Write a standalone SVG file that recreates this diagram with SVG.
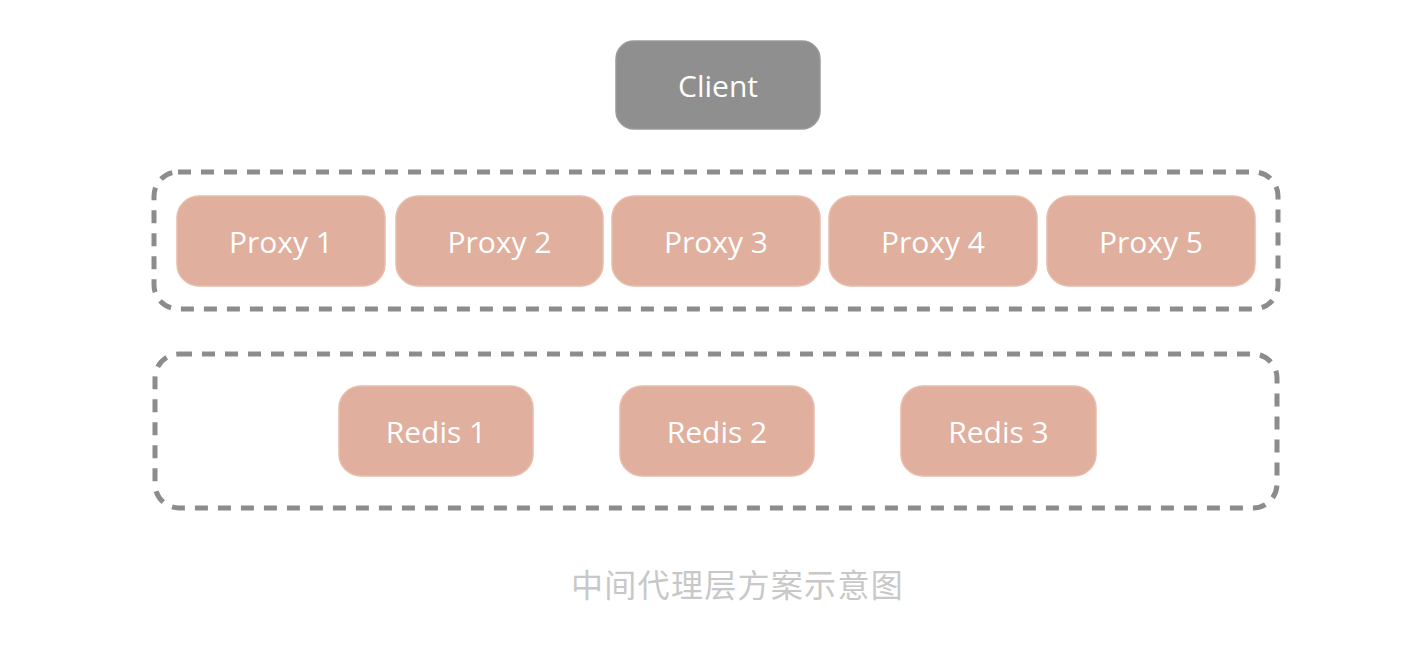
<svg xmlns="http://www.w3.org/2000/svg" width="1410" height="648" viewBox="0 0 1410 648">
<style>
.box{fill:#e0af9e;stroke:#e8bcab;stroke-width:1.5}
.lbl{font-family:"Open Sans","Noto Sans",sans-serif;font-size:30px;fill:#ffffff;text-anchor:middle;dominant-baseline:central}
.grp{fill:none;stroke:#8c8c8c;stroke-width:5;stroke-dasharray:13 10}
.cap{font-family:"Noto Sans CJK SC",sans-serif;font-size:32px;letter-spacing:1.3px;fill:#c8c8c8;text-anchor:middle;dominant-baseline:central}
</style>
<rect width="1410" height="648" fill="#ffffff"/>
<g id="groups">
<rect class="grp" x="154" y="172" width="1124" height="137" rx="24"/>
<rect class="grp" x="155" y="354" width="1122" height="154" rx="24"/>
</g>
<g id="client">
<rect x="616" y="41" width="204" height="88" rx="18" fill="#8f8f8f" stroke="#9a9a9a" stroke-width="1.5"/>
<text class="lbl" x="718" y="85">Client</text>
</g>
<g id="proxy1"><rect class="box" x="177" y="196" width="208" height="90" rx="22"/><text class="lbl" x="281" y="241">Proxy 1</text></g>
<g id="proxy2"><rect class="box" x="396" y="196" width="207" height="90" rx="22"/><text class="lbl" x="499.5" y="241">Proxy 2</text></g>
<g id="proxy3"><rect class="box" x="612" y="196" width="208" height="90" rx="22"/><text class="lbl" x="716" y="241">Proxy 3</text></g>
<g id="proxy4"><rect class="box" x="829" y="196" width="208" height="90" rx="22"/><text class="lbl" x="933" y="241">Proxy 4</text></g>
<g id="proxy5"><rect class="box" x="1047" y="196" width="208" height="90" rx="22"/><text class="lbl" x="1151" y="241">Proxy 5</text></g>
<g id="redis1"><rect class="box" x="339" y="386" width="194" height="90" rx="22"/><text class="lbl" x="436" y="431">Redis 1</text></g>
<g id="redis2"><rect class="box" x="620" y="386" width="194" height="90" rx="22"/><text class="lbl" x="717" y="431">Redis 2</text></g>
<g id="redis3"><rect class="box" x="901" y="386" width="195" height="90" rx="22"/><text class="lbl" x="998.5" y="431">Redis 3</text></g>
<g id="connectors"></g>
<text class="cap" x="737.5" y="583">中间代理层方案示意图</text>
</svg>
